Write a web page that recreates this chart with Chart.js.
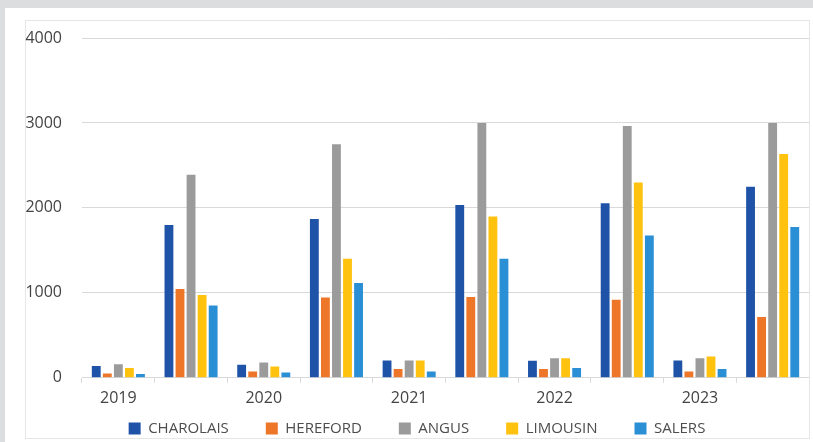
<!DOCTYPE html>
<html>
<head>
<meta charset="utf-8">
<script src="https://cdn.jsdelivr.net/npm/chart.js@4"></script>
<style>
  html, body { margin: 0; padding: 0; background: #dcdddf; }
  #panel { position: absolute; left: 5px; top: 8px; width: 808px; height: 434px; background: #ffffff; }
  #frame { position: absolute; left: 20px; top: 12px; width: 783px; height: 417px; border: 1px solid #e6e6e6; }
  #wrap { position: absolute; left: 25px; top: 20px; width: 784px; height: 418px; }
</style>
</head>
<body>
<div id="panel"><div id="frame"></div></div>
<div id="wrap"><canvas id="canvas" width="784" height="418"></canvas></div>
<script>
// two groups per year: small herd counts, then the large ones
let categories = ['2019', '', '2020', '', '2021', '', '2022', '', '2023', ''];
let charolais = [140, 1800, 155, 1870, 205, 2035, 200, 2055, 205, 2250];
let hereford  = [50, 1045, 75, 945, 105, 950, 105, 920, 75, 715];
let angus     = [160, 2390, 180, 2750, 205, 3000, 230, 2965, 230, 3000];
let limousin  = [115, 975, 133, 1400, 205, 1900, 230, 2300, 250, 2635];
let salers    = [45, 850, 62, 1115, 75, 1400, 115, 1675, 105, 1775];
let yTicks = [0, 1000, 2000, 3000, 4000];

let font = "'Open Sans', 'Liberation Sans', sans-serif";

let ctx = document.getElementById('canvas').getContext('2d');
let chart = new Chart(ctx, {
  type: 'bar',
  data: {
    labels: categories,
    datasets: [
      { label: 'CHAROLAIS', data: charolais, backgroundColor: '#1f53a8' },
      { label: 'HEREFORD', data: hereford, backgroundColor: '#ee7628' },
      { label: 'ANGUS', data: angus, backgroundColor: '#9b9b9b' },
      { label: 'LIMOUSIN', data: limousin, backgroundColor: '#ffc20e' },
      { label: 'SALERS', data: salers, backgroundColor: '#2a8fd4' }
    ]
  },
  options: {
    responsive: false,
    animation: false,
    layout: { padding: { top: 18, right: 0, left: 0, bottom: 0 } },
    datasets: { bar: { barPercentage: 0.8, categoryPercentage: 0.76 } },
    plugins: {
      tooltip: { enabled: false },
      legend: {
        position: 'bottom',
        labels: {
          boxWidth: 12, boxHeight: 12, padding: 37,
          color: '#4d4d4d',
          font: { family: font, size: 15 }
        }
      }
    },
    scales: {
      x: {
        grid: { drawOnChartArea: false, color: '#d9d9d9', tickLength: 5, offset: true },
        border: { color: '#d9d9d9' },
        ticks: { color: '#444', font: { family: font, size: 16 }, padding: 6, autoSkip: false, maxRotation: 0 }
      },
      y: {
        min: 0, max: 4000,
        afterBuildTicks: (s) => { s.ticks = yTicks.map(v => ({ value: v })); },
        afterFit: (s) => { s.width = 57; s.paddingTop = 10; s.paddingBottom = 10; },
        grid: { color: '#d9d9d9', drawTicks: false },
        border: { display: false },
        ticks: { color: '#444', font: { family: font, size: 16 }, padding: 20, callback: (v) => String(v) }
      }
    }
  }
});

// the legend keeps wide gaps between items but sits close under the axis
let legendFit = chart.legend.fit;
chart.legend.fit = function() {
  legendFit.call(this);
  this.height = 24;
};
let legendDraw = chart.legend._draw;
chart.legend._draw = function() {
  this.ctx.save();
  this.ctx.translate(0, -30);
  legendDraw.apply(this, arguments);
  this.ctx.restore();
};
chart.update();
</script>
</body>
</html>
